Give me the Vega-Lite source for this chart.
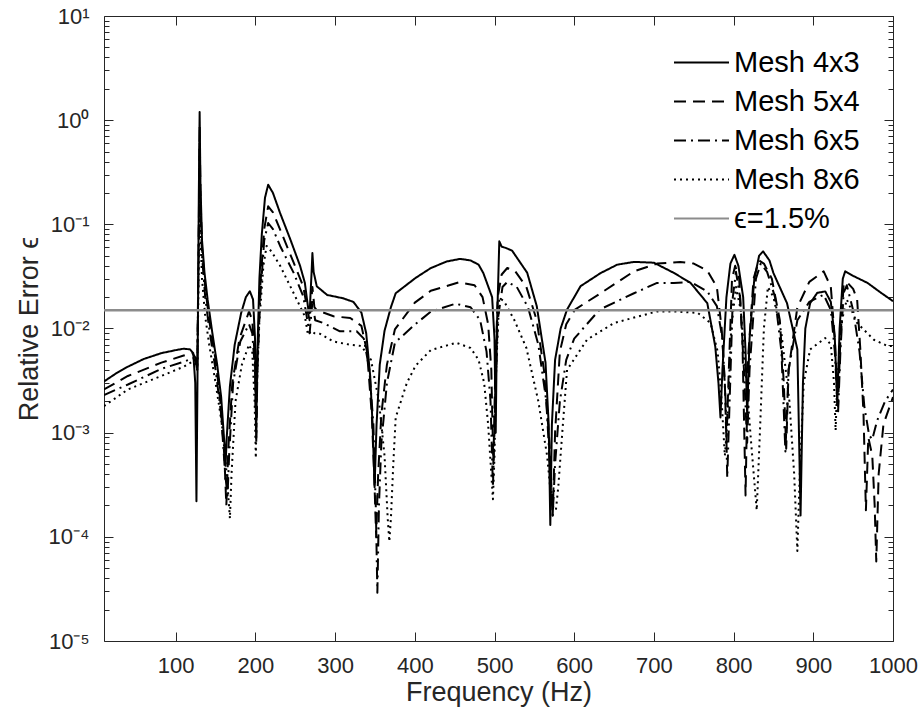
{
  "$schema": "https://vega.github.io/schema/vega-lite/v6.json",
  "width": 789,
  "height": 625,
  "autosize": {"type": "none"},
  "padding": {"left": 104, "top": 16, "right": 31, "bottom": 80},
  "background": "white",
  "config": {
    "font": "Liberation Sans",
    "view": {"stroke": "#262626", "strokeWidth": 1},
    "axis": {
      "domain": false,
      "ticks": false,
      "labelColor": "#262626",
      "titleColor": "#262626",
      "labelFont": "Liberation Sans",
      "titleFont": "Liberation Sans",
      "labelFontSize": 22,
      "titleFontSize": 27,
      "titleFontWeight": "normal"
    }
  },
  "data": {
    "values": [
      {"mesh": "Mesh 4x3", "f": 10, "err": 0.0031}, {"mesh": "Mesh 4x3", "f": 25, "err": 0.0037}, {"mesh": "Mesh 4x3", "f": 40, "err": 0.0043}, {"mesh": "Mesh 4x3", "f": 60, "err": 0.0051}, {"mesh": "Mesh 4x3", "f": 82, "err": 0.0058}, {"mesh": "Mesh 4x3", "f": 100, "err": 0.0062}, {"mesh": "Mesh 4x3", "f": 110, "err": 0.0064}, {"mesh": "Mesh 4x3", "f": 118, "err": 0.0063}, {"mesh": "Mesh 4x3", "f": 122, "err": 0.0058}, {"mesh": "Mesh 4x3", "f": 124.5, "err": 0.003}, {"mesh": "Mesh 4x3", "f": 126, "err": 0.00022}, {"mesh": "Mesh 4x3", "f": 127.5, "err": 0.005}, {"mesh": "Mesh 4x3", "f": 129, "err": 0.2}, {"mesh": "Mesh 4x3", "f": 130, "err": 1.2}, {"mesh": "Mesh 4x3", "f": 131, "err": 0.25}, {"mesh": "Mesh 4x3", "f": 133, "err": 0.07}, {"mesh": "Mesh 4x3", "f": 136, "err": 0.035}, {"mesh": "Mesh 4x3", "f": 140, "err": 0.019}, {"mesh": "Mesh 4x3", "f": 146, "err": 0.009}, {"mesh": "Mesh 4x3", "f": 152, "err": 0.0045}, {"mesh": "Mesh 4x3", "f": 157, "err": 0.0022}, {"mesh": "Mesh 4x3", "f": 161, "err": 0.0008}, {"mesh": "Mesh 4x3", "f": 162.5, "err": 0.00048}, {"mesh": "Mesh 4x3", "f": 164, "err": 0.0009}, {"mesh": "Mesh 4x3", "f": 168, "err": 0.0028}, {"mesh": "Mesh 4x3", "f": 174, "err": 0.007}, {"mesh": "Mesh 4x3", "f": 182, "err": 0.014}, {"mesh": "Mesh 4x3", "f": 188, "err": 0.02}, {"mesh": "Mesh 4x3", "f": 193, "err": 0.0228}, {"mesh": "Mesh 4x3", "f": 197, "err": 0.019}, {"mesh": "Mesh 4x3", "f": 199.5, "err": 0.008}, {"mesh": "Mesh 4x3", "f": 201, "err": 0.0011}, {"mesh": "Mesh 4x3", "f": 202.5, "err": 0.006}, {"mesh": "Mesh 4x3", "f": 205, "err": 0.03}, {"mesh": "Mesh 4x3", "f": 208, "err": 0.08}, {"mesh": "Mesh 4x3", "f": 212, "err": 0.18}, {"mesh": "Mesh 4x3", "f": 216, "err": 0.24}, {"mesh": "Mesh 4x3", "f": 222, "err": 0.2}, {"mesh": "Mesh 4x3", "f": 231, "err": 0.128}, {"mesh": "Mesh 4x3", "f": 244, "err": 0.071}, {"mesh": "Mesh 4x3", "f": 256, "err": 0.04}, {"mesh": "Mesh 4x3", "f": 262, "err": 0.0275}, {"mesh": "Mesh 4x3", "f": 266, "err": 0.016}, {"mesh": "Mesh 4x3", "f": 268, "err": 0.014}, {"mesh": "Mesh 4x3", "f": 270.5, "err": 0.035}, {"mesh": "Mesh 4x3", "f": 271.5, "err": 0.053}, {"mesh": "Mesh 4x3", "f": 273, "err": 0.035}, {"mesh": "Mesh 4x3", "f": 277, "err": 0.0254}, {"mesh": "Mesh 4x3", "f": 290, "err": 0.021}, {"mesh": "Mesh 4x3", "f": 310, "err": 0.0195}, {"mesh": "Mesh 4x3", "f": 323, "err": 0.018}, {"mesh": "Mesh 4x3", "f": 333, "err": 0.0142}, {"mesh": "Mesh 4x3", "f": 339, "err": 0.009}, {"mesh": "Mesh 4x3", "f": 344, "err": 0.0035}, {"mesh": "Mesh 4x3", "f": 347, "err": 0.0012}, {"mesh": "Mesh 4x3", "f": 349.5, "err": 0.0003}, {"mesh": "Mesh 4x3", "f": 352, "err": 0.0012}, {"mesh": "Mesh 4x3", "f": 356, "err": 0.0045}, {"mesh": "Mesh 4x3", "f": 362, "err": 0.0095}, {"mesh": "Mesh 4x3", "f": 370, "err": 0.016}, {"mesh": "Mesh 4x3", "f": 376, "err": 0.0218}, {"mesh": "Mesh 4x3", "f": 401, "err": 0.0306}, {"mesh": "Mesh 4x3", "f": 420, "err": 0.038}, {"mesh": "Mesh 4x3", "f": 440, "err": 0.044}, {"mesh": "Mesh 4x3", "f": 457, "err": 0.0466}, {"mesh": "Mesh 4x3", "f": 470, "err": 0.045}, {"mesh": "Mesh 4x3", "f": 480, "err": 0.041}, {"mesh": "Mesh 4x3", "f": 486, "err": 0.034}, {"mesh": "Mesh 4x3", "f": 497, "err": 0.02}, {"mesh": "Mesh 4x3", "f": 500, "err": 0.008}, {"mesh": "Mesh 4x3", "f": 501.5, "err": 0.001}, {"mesh": "Mesh 4x3", "f": 503, "err": 0.01}, {"mesh": "Mesh 4x3", "f": 506, "err": 0.0687}, {"mesh": "Mesh 4x3", "f": 509, "err": 0.061}, {"mesh": "Mesh 4x3", "f": 514, "err": 0.0594}, {"mesh": "Mesh 4x3", "f": 522, "err": 0.056}, {"mesh": "Mesh 4x3", "f": 541, "err": 0.0343}, {"mesh": "Mesh 4x3", "f": 553, "err": 0.0164}, {"mesh": "Mesh 4x3", "f": 564, "err": 0.0047}, {"mesh": "Mesh 4x3", "f": 568, "err": 0.0012}, {"mesh": "Mesh 4x3", "f": 570, "err": 0.00013}, {"mesh": "Mesh 4x3", "f": 572, "err": 0.0012}, {"mesh": "Mesh 4x3", "f": 576, "err": 0.005}, {"mesh": "Mesh 4x3", "f": 583, "err": 0.01}, {"mesh": "Mesh 4x3", "f": 591, "err": 0.0152}, {"mesh": "Mesh 4x3", "f": 608, "err": 0.0255}, {"mesh": "Mesh 4x3", "f": 633, "err": 0.034}, {"mesh": "Mesh 4x3", "f": 654, "err": 0.041}, {"mesh": "Mesh 4x3", "f": 675, "err": 0.0436}, {"mesh": "Mesh 4x3", "f": 700, "err": 0.0428}, {"mesh": "Mesh 4x3", "f": 725, "err": 0.0342}, {"mesh": "Mesh 4x3", "f": 746, "err": 0.0274}, {"mesh": "Mesh 4x3", "f": 767, "err": 0.0175}, {"mesh": "Mesh 4x3", "f": 777, "err": 0.0067}, {"mesh": "Mesh 4x3", "f": 781, "err": 0.003}, {"mesh": "Mesh 4x3", "f": 783.5, "err": 0.0014}, {"mesh": "Mesh 4x3", "f": 786, "err": 0.004}, {"mesh": "Mesh 4x3", "f": 791, "err": 0.02}, {"mesh": "Mesh 4x3", "f": 796, "err": 0.042}, {"mesh": "Mesh 4x3", "f": 801, "err": 0.051}, {"mesh": "Mesh 4x3", "f": 806, "err": 0.04}, {"mesh": "Mesh 4x3", "f": 812, "err": 0.02}, {"mesh": "Mesh 4x3", "f": 815, "err": 0.006}, {"mesh": "Mesh 4x3", "f": 817, "err": 0.0015}, {"mesh": "Mesh 4x3", "f": 820, "err": 0.008}, {"mesh": "Mesh 4x3", "f": 826, "err": 0.03}, {"mesh": "Mesh 4x3", "f": 832, "err": 0.05}, {"mesh": "Mesh 4x3", "f": 837, "err": 0.055}, {"mesh": "Mesh 4x3", "f": 845, "err": 0.045}, {"mesh": "Mesh 4x3", "f": 850, "err": 0.034}, {"mesh": "Mesh 4x3", "f": 867, "err": 0.0175}, {"mesh": "Mesh 4x3", "f": 880, "err": 0.0063}, {"mesh": "Mesh 4x3", "f": 884, "err": 0.00016}, {"mesh": "Mesh 4x3", "f": 887, "err": 0.003}, {"mesh": "Mesh 4x3", "f": 890, "err": 0.01}, {"mesh": "Mesh 4x3", "f": 896, "err": 0.0175}, {"mesh": "Mesh 4x3", "f": 905, "err": 0.022}, {"mesh": "Mesh 4x3", "f": 915, "err": 0.0227}, {"mesh": "Mesh 4x3", "f": 922, "err": 0.018}, {"mesh": "Mesh 4x3", "f": 927, "err": 0.008}, {"mesh": "Mesh 4x3", "f": 930, "err": 0.0019}, {"mesh": "Mesh 4x3", "f": 933, "err": 0.01}, {"mesh": "Mesh 4x3", "f": 937, "err": 0.03}, {"mesh": "Mesh 4x3", "f": 940, "err": 0.0354}, {"mesh": "Mesh 4x3", "f": 950, "err": 0.032}, {"mesh": "Mesh 4x3", "f": 968, "err": 0.0274}, {"mesh": "Mesh 4x3", "f": 985, "err": 0.022}, {"mesh": "Mesh 4x3", "f": 1000, "err": 0.0183},

      {"mesh": "Mesh 5x4", "f": 10, "err": 0.0026}, {"mesh": "Mesh 5x4", "f": 40, "err": 0.0035}, {"mesh": "Mesh 5x4", "f": 82, "err": 0.0047}, {"mesh": "Mesh 5x4", "f": 110, "err": 0.0055}, {"mesh": "Mesh 5x4", "f": 121, "err": 0.0058}, {"mesh": "Mesh 5x4", "f": 125, "err": 0.0052}, {"mesh": "Mesh 5x4", "f": 127, "err": 0.004}, {"mesh": "Mesh 5x4", "f": 129, "err": 0.1}, {"mesh": "Mesh 5x4", "f": 130, "err": 0.9}, {"mesh": "Mesh 5x4", "f": 131, "err": 0.2}, {"mesh": "Mesh 5x4", "f": 133, "err": 0.06}, {"mesh": "Mesh 5x4", "f": 137, "err": 0.025}, {"mesh": "Mesh 5x4", "f": 142, "err": 0.012}, {"mesh": "Mesh 5x4", "f": 150, "err": 0.005}, {"mesh": "Mesh 5x4", "f": 156, "err": 0.002}, {"mesh": "Mesh 5x4", "f": 161, "err": 0.0006}, {"mesh": "Mesh 5x4", "f": 163.5, "err": 0.0002}, {"mesh": "Mesh 5x4", "f": 166, "err": 0.0007}, {"mesh": "Mesh 5x4", "f": 171, "err": 0.003}, {"mesh": "Mesh 5x4", "f": 180, "err": 0.008}, {"mesh": "Mesh 5x4", "f": 192, "err": 0.0146}, {"mesh": "Mesh 5x4", "f": 196, "err": 0.012}, {"mesh": "Mesh 5x4", "f": 199.5, "err": 0.005}, {"mesh": "Mesh 5x4", "f": 201, "err": 0.0009}, {"mesh": "Mesh 5x4", "f": 202.5, "err": 0.005}, {"mesh": "Mesh 5x4", "f": 206, "err": 0.025}, {"mesh": "Mesh 5x4", "f": 211, "err": 0.09}, {"mesh": "Mesh 5x4", "f": 216, "err": 0.149}, {"mesh": "Mesh 5x4", "f": 222, "err": 0.13}, {"mesh": "Mesh 5x4", "f": 231, "err": 0.089}, {"mesh": "Mesh 5x4", "f": 248, "err": 0.0428}, {"mesh": "Mesh 5x4", "f": 260, "err": 0.0254}, {"mesh": "Mesh 5x4", "f": 266, "err": 0.014}, {"mesh": "Mesh 5x4", "f": 268, "err": 0.012}, {"mesh": "Mesh 5x4", "f": 271.5, "err": 0.025}, {"mesh": "Mesh 5x4", "f": 274, "err": 0.016}, {"mesh": "Mesh 5x4", "f": 277, "err": 0.015}, {"mesh": "Mesh 5x4", "f": 298, "err": 0.0131}, {"mesh": "Mesh 5x4", "f": 319, "err": 0.0126}, {"mesh": "Mesh 5x4", "f": 333, "err": 0.0106}, {"mesh": "Mesh 5x4", "f": 340, "err": 0.006}, {"mesh": "Mesh 5x4", "f": 346, "err": 0.0015}, {"mesh": "Mesh 5x4", "f": 349, "err": 0.0004}, {"mesh": "Mesh 5x4", "f": 351.5, "err": 0.0001}, {"mesh": "Mesh 5x4", "f": 354, "err": 0.0004}, {"mesh": "Mesh 5x4", "f": 358, "err": 0.0015}, {"mesh": "Mesh 5x4", "f": 365, "err": 0.0045}, {"mesh": "Mesh 5x4", "f": 375, "err": 0.0098}, {"mesh": "Mesh 5x4", "f": 400, "err": 0.0177}, {"mesh": "Mesh 5x4", "f": 420, "err": 0.023}, {"mesh": "Mesh 5x4", "f": 455, "err": 0.0277}, {"mesh": "Mesh 5x4", "f": 475, "err": 0.026}, {"mesh": "Mesh 5x4", "f": 485, "err": 0.02}, {"mesh": "Mesh 5x4", "f": 492, "err": 0.011}, {"mesh": "Mesh 5x4", "f": 496, "err": 0.004}, {"mesh": "Mesh 5x4", "f": 498.5, "err": 0.0005}, {"mesh": "Mesh 5x4", "f": 501, "err": 0.004}, {"mesh": "Mesh 5x4", "f": 504, "err": 0.02}, {"mesh": "Mesh 5x4", "f": 509, "err": 0.033}, {"mesh": "Mesh 5x4", "f": 516, "err": 0.0381}, {"mesh": "Mesh 5x4", "f": 526, "err": 0.0354}, {"mesh": "Mesh 5x4", "f": 540, "err": 0.025}, {"mesh": "Mesh 5x4", "f": 553, "err": 0.012}, {"mesh": "Mesh 5x4", "f": 562, "err": 0.004}, {"mesh": "Mesh 5x4", "f": 569, "err": 0.0008}, {"mesh": "Mesh 5x4", "f": 573, "err": 0.00016}, {"mesh": "Mesh 5x4", "f": 576, "err": 0.001}, {"mesh": "Mesh 5x4", "f": 582, "err": 0.006}, {"mesh": "Mesh 5x4", "f": 590, "err": 0.011}, {"mesh": "Mesh 5x4", "f": 601, "err": 0.0152}, {"mesh": "Mesh 5x4", "f": 633, "err": 0.0218}, {"mesh": "Mesh 5x4", "f": 675, "err": 0.0354}, {"mesh": "Mesh 5x4", "f": 704, "err": 0.042}, {"mesh": "Mesh 5x4", "f": 733, "err": 0.0436}, {"mesh": "Mesh 5x4", "f": 750, "err": 0.042}, {"mesh": "Mesh 5x4", "f": 767, "err": 0.036}, {"mesh": "Mesh 5x4", "f": 779, "err": 0.025}, {"mesh": "Mesh 5x4", "f": 785, "err": 0.01}, {"mesh": "Mesh 5x4", "f": 789, "err": 0.003}, {"mesh": "Mesh 5x4", "f": 791, "err": 0.0008}, {"mesh": "Mesh 5x4", "f": 794, "err": 0.004}, {"mesh": "Mesh 5x4", "f": 798, "err": 0.03}, {"mesh": "Mesh 5x4", "f": 802, "err": 0.04}, {"mesh": "Mesh 5x4", "f": 807, "err": 0.03}, {"mesh": "Mesh 5x4", "f": 811, "err": 0.008}, {"mesh": "Mesh 5x4", "f": 815, "err": 0.00025}, {"mesh": "Mesh 5x4", "f": 818, "err": 0.005}, {"mesh": "Mesh 5x4", "f": 825, "err": 0.03}, {"mesh": "Mesh 5x4", "f": 832, "err": 0.045}, {"mesh": "Mesh 5x4", "f": 838, "err": 0.042}, {"mesh": "Mesh 5x4", "f": 848, "err": 0.03}, {"mesh": "Mesh 5x4", "f": 858, "err": 0.012}, {"mesh": "Mesh 5x4", "f": 863, "err": 0.003}, {"mesh": "Mesh 5x4", "f": 866, "err": 0.0007}, {"mesh": "Mesh 5x4", "f": 869, "err": 0.004}, {"mesh": "Mesh 5x4", "f": 880, "err": 0.016}, {"mesh": "Mesh 5x4", "f": 895, "err": 0.028}, {"mesh": "Mesh 5x4", "f": 913, "err": 0.0354}, {"mesh": "Mesh 5x4", "f": 922, "err": 0.025}, {"mesh": "Mesh 5x4", "f": 927, "err": 0.008}, {"mesh": "Mesh 5x4", "f": 931, "err": 0.0018}, {"mesh": "Mesh 5x4", "f": 934, "err": 0.008}, {"mesh": "Mesh 5x4", "f": 938, "err": 0.026}, {"mesh": "Mesh 5x4", "f": 942, "err": 0.028}, {"mesh": "Mesh 5x4", "f": 950, "err": 0.024}, {"mesh": "Mesh 5x4", "f": 955, "err": 0.019}, {"mesh": "Mesh 5x4", "f": 959, "err": 0.0063}, {"mesh": "Mesh 5x4", "f": 963, "err": 0.0015}, {"mesh": "Mesh 5x4", "f": 966, "err": 0.00018}, {"mesh": "Mesh 5x4", "f": 969, "err": 0.0009}, {"mesh": "Mesh 5x4", "f": 974, "err": 0.0006}, {"mesh": "Mesh 5x4", "f": 977, "err": 0.0002}, {"mesh": "Mesh 5x4", "f": 979, "err": 0.000058}, {"mesh": "Mesh 5x4", "f": 982, "err": 0.0004}, {"mesh": "Mesh 5x4", "f": 988, "err": 0.0012}, {"mesh": "Mesh 5x4", "f": 1000, "err": 0.0022},

      {"mesh": "Mesh 6x5", "f": 10, "err": 0.0023}, {"mesh": "Mesh 6x5", "f": 40, "err": 0.0029}, {"mesh": "Mesh 6x5", "f": 82, "err": 0.0041}, {"mesh": "Mesh 6x5", "f": 110, "err": 0.0048}, {"mesh": "Mesh 6x5", "f": 122, "err": 0.0052}, {"mesh": "Mesh 6x5", "f": 125, "err": 0.0048}, {"mesh": "Mesh 6x5", "f": 127, "err": 0.004}, {"mesh": "Mesh 6x5", "f": 129, "err": 0.08}, {"mesh": "Mesh 6x5", "f": 130, "err": 0.6}, {"mesh": "Mesh 6x5", "f": 131, "err": 0.15}, {"mesh": "Mesh 6x5", "f": 133, "err": 0.05}, {"mesh": "Mesh 6x5", "f": 137, "err": 0.02}, {"mesh": "Mesh 6x5", "f": 142, "err": 0.01}, {"mesh": "Mesh 6x5", "f": 150, "err": 0.004}, {"mesh": "Mesh 6x5", "f": 157, "err": 0.0015}, {"mesh": "Mesh 6x5", "f": 162, "err": 0.0004}, {"mesh": "Mesh 6x5", "f": 165, "err": 0.00025}, {"mesh": "Mesh 6x5", "f": 167, "err": 0.0006}, {"mesh": "Mesh 6x5", "f": 172, "err": 0.003}, {"mesh": "Mesh 6x5", "f": 181, "err": 0.0075}, {"mesh": "Mesh 6x5", "f": 192, "err": 0.011}, {"mesh": "Mesh 6x5", "f": 196, "err": 0.009}, {"mesh": "Mesh 6x5", "f": 199.5, "err": 0.004}, {"mesh": "Mesh 6x5", "f": 201, "err": 0.0008}, {"mesh": "Mesh 6x5", "f": 202.5, "err": 0.004}, {"mesh": "Mesh 6x5", "f": 206, "err": 0.02}, {"mesh": "Mesh 6x5", "f": 211, "err": 0.07}, {"mesh": "Mesh 6x5", "f": 216, "err": 0.103}, {"mesh": "Mesh 6x5", "f": 222, "err": 0.09}, {"mesh": "Mesh 6x5", "f": 231, "err": 0.062}, {"mesh": "Mesh 6x5", "f": 248, "err": 0.0342}, {"mesh": "Mesh 6x5", "f": 260, "err": 0.0204}, {"mesh": "Mesh 6x5", "f": 266, "err": 0.011}, {"mesh": "Mesh 6x5", "f": 268, "err": 0.009}, {"mesh": "Mesh 6x5", "f": 271.5, "err": 0.018}, {"mesh": "Mesh 6x5", "f": 275, "err": 0.012}, {"mesh": "Mesh 6x5", "f": 285, "err": 0.0113}, {"mesh": "Mesh 6x5", "f": 306, "err": 0.0094}, {"mesh": "Mesh 6x5", "f": 327, "err": 0.0094}, {"mesh": "Mesh 6x5", "f": 336, "err": 0.008}, {"mesh": "Mesh 6x5", "f": 343, "err": 0.004}, {"mesh": "Mesh 6x5", "f": 348, "err": 0.0012}, {"mesh": "Mesh 6x5", "f": 351, "err": 0.0002}, {"mesh": "Mesh 6x5", "f": 353, "err": 0.000029}, {"mesh": "Mesh 6x5", "f": 355, "err": 0.0002}, {"mesh": "Mesh 6x5", "f": 358, "err": 0.0008}, {"mesh": "Mesh 6x5", "f": 365, "err": 0.003}, {"mesh": "Mesh 6x5", "f": 375, "err": 0.0073}, {"mesh": "Mesh 6x5", "f": 400, "err": 0.0109}, {"mesh": "Mesh 6x5", "f": 420, "err": 0.0145}, {"mesh": "Mesh 6x5", "f": 451, "err": 0.0173}, {"mesh": "Mesh 6x5", "f": 470, "err": 0.016}, {"mesh": "Mesh 6x5", "f": 482, "err": 0.012}, {"mesh": "Mesh 6x5", "f": 490, "err": 0.006}, {"mesh": "Mesh 6x5", "f": 495, "err": 0.002}, {"mesh": "Mesh 6x5", "f": 498, "err": 0.0003}, {"mesh": "Mesh 6x5", "f": 501, "err": 0.002}, {"mesh": "Mesh 6x5", "f": 504, "err": 0.012}, {"mesh": "Mesh 6x5", "f": 510, "err": 0.025}, {"mesh": "Mesh 6x5", "f": 516, "err": 0.028}, {"mesh": "Mesh 6x5", "f": 528, "err": 0.025}, {"mesh": "Mesh 6x5", "f": 542, "err": 0.016}, {"mesh": "Mesh 6x5", "f": 555, "err": 0.007}, {"mesh": "Mesh 6x5", "f": 565, "err": 0.002}, {"mesh": "Mesh 6x5", "f": 571, "err": 0.0003}, {"mesh": "Mesh 6x5", "f": 573, "err": 0.00016}, {"mesh": "Mesh 6x5", "f": 576, "err": 0.0005}, {"mesh": "Mesh 6x5", "f": 582, "err": 0.002}, {"mesh": "Mesh 6x5", "f": 590, "err": 0.005}, {"mesh": "Mesh 6x5", "f": 600, "err": 0.008}, {"mesh": "Mesh 6x5", "f": 632, "err": 0.0152}, {"mesh": "Mesh 6x5", "f": 675, "err": 0.0218}, {"mesh": "Mesh 6x5", "f": 704, "err": 0.0274}, {"mesh": "Mesh 6x5", "f": 725, "err": 0.0274}, {"mesh": "Mesh 6x5", "f": 746, "err": 0.028}, {"mesh": "Mesh 6x5", "f": 767, "err": 0.0227}, {"mesh": "Mesh 6x5", "f": 779, "err": 0.0164}, {"mesh": "Mesh 6x5", "f": 786, "err": 0.008}, {"mesh": "Mesh 6x5", "f": 790, "err": 0.002}, {"mesh": "Mesh 6x5", "f": 792, "err": 0.00037}, {"mesh": "Mesh 6x5", "f": 795, "err": 0.002}, {"mesh": "Mesh 6x5", "f": 799, "err": 0.02}, {"mesh": "Mesh 6x5", "f": 803, "err": 0.035}, {"mesh": "Mesh 6x5", "f": 808, "err": 0.02}, {"mesh": "Mesh 6x5", "f": 813, "err": 0.004}, {"mesh": "Mesh 6x5", "f": 817, "err": 0.0008}, {"mesh": "Mesh 6x5", "f": 820, "err": 0.004}, {"mesh": "Mesh 6x5", "f": 828, "err": 0.03}, {"mesh": "Mesh 6x5", "f": 834, "err": 0.042}, {"mesh": "Mesh 6x5", "f": 842, "err": 0.035}, {"mesh": "Mesh 6x5", "f": 852, "err": 0.02}, {"mesh": "Mesh 6x5", "f": 860, "err": 0.006}, {"mesh": "Mesh 6x5", "f": 865, "err": 0.00066}, {"mesh": "Mesh 6x5", "f": 869, "err": 0.004}, {"mesh": "Mesh 6x5", "f": 880, "err": 0.012}, {"mesh": "Mesh 6x5", "f": 895, "err": 0.018}, {"mesh": "Mesh 6x5", "f": 913, "err": 0.0211}, {"mesh": "Mesh 6x5", "f": 922, "err": 0.015}, {"mesh": "Mesh 6x5", "f": 927, "err": 0.006}, {"mesh": "Mesh 6x5", "f": 931, "err": 0.0015}, {"mesh": "Mesh 6x5", "f": 934, "err": 0.006}, {"mesh": "Mesh 6x5", "f": 938, "err": 0.022}, {"mesh": "Mesh 6x5", "f": 942, "err": 0.026}, {"mesh": "Mesh 6x5", "f": 950, "err": 0.015}, {"mesh": "Mesh 6x5", "f": 958, "err": 0.006}, {"mesh": "Mesh 6x5", "f": 964, "err": 0.0018}, {"mesh": "Mesh 6x5", "f": 970, "err": 0.00095}, {"mesh": "Mesh 6x5", "f": 974, "err": 0.00086}, {"mesh": "Mesh 6x5", "f": 980, "err": 0.0013}, {"mesh": "Mesh 6x5", "f": 990, "err": 0.002}, {"mesh": "Mesh 6x5", "f": 1000, "err": 0.0026},

      {"mesh": "Mesh 8x6", "f": 10, "err": 0.0018}, {"mesh": "Mesh 8x6", "f": 40, "err": 0.0026}, {"mesh": "Mesh 8x6", "f": 82, "err": 0.0035}, {"mesh": "Mesh 8x6", "f": 110, "err": 0.0043}, {"mesh": "Mesh 8x6", "f": 121, "err": 0.0048}, {"mesh": "Mesh 8x6", "f": 125, "err": 0.0045}, {"mesh": "Mesh 8x6", "f": 127, "err": 0.004}, {"mesh": "Mesh 8x6", "f": 129, "err": 0.04}, {"mesh": "Mesh 8x6", "f": 130, "err": 0.3}, {"mesh": "Mesh 8x6", "f": 131, "err": 0.08}, {"mesh": "Mesh 8x6", "f": 133, "err": 0.03}, {"mesh": "Mesh 8x6", "f": 137, "err": 0.013}, {"mesh": "Mesh 8x6", "f": 142, "err": 0.007}, {"mesh": "Mesh 8x6", "f": 150, "err": 0.003}, {"mesh": "Mesh 8x6", "f": 158, "err": 0.0012}, {"mesh": "Mesh 8x6", "f": 164, "err": 0.0004}, {"mesh": "Mesh 8x6", "f": 168, "err": 0.00015}, {"mesh": "Mesh 8x6", "f": 170, "err": 0.0004}, {"mesh": "Mesh 8x6", "f": 175, "err": 0.002}, {"mesh": "Mesh 8x6", "f": 183, "err": 0.0045}, {"mesh": "Mesh 8x6", "f": 192, "err": 0.007}, {"mesh": "Mesh 8x6", "f": 196, "err": 0.006}, {"mesh": "Mesh 8x6", "f": 199, "err": 0.002}, {"mesh": "Mesh 8x6", "f": 200.5, "err": 0.00057}, {"mesh": "Mesh 8x6", "f": 202, "err": 0.003}, {"mesh": "Mesh 8x6", "f": 205, "err": 0.012}, {"mesh": "Mesh 8x6", "f": 210, "err": 0.04}, {"mesh": "Mesh 8x6", "f": 214, "err": 0.062}, {"mesh": "Mesh 8x6", "f": 220, "err": 0.055}, {"mesh": "Mesh 8x6", "f": 231, "err": 0.04}, {"mesh": "Mesh 8x6", "f": 248, "err": 0.0218}, {"mesh": "Mesh 8x6", "f": 262, "err": 0.0131}, {"mesh": "Mesh 8x6", "f": 266, "err": 0.0087}, {"mesh": "Mesh 8x6", "f": 270, "err": 0.0095}, {"mesh": "Mesh 8x6", "f": 274, "err": 0.009}, {"mesh": "Mesh 8x6", "f": 281, "err": 0.0089}, {"mesh": "Mesh 8x6", "f": 298, "err": 0.0075}, {"mesh": "Mesh 8x6", "f": 318, "err": 0.007}, {"mesh": "Mesh 8x6", "f": 333, "err": 0.0068}, {"mesh": "Mesh 8x6", "f": 345, "err": 0.005}, {"mesh": "Mesh 8x6", "f": 355, "err": 0.002}, {"mesh": "Mesh 8x6", "f": 362, "err": 0.0006}, {"mesh": "Mesh 8x6", "f": 366, "err": 0.00015}, {"mesh": "Mesh 8x6", "f": 368, "err": 0.00009}, {"mesh": "Mesh 8x6", "f": 370, "err": 0.00015}, {"mesh": "Mesh 8x6", "f": 373, "err": 0.0005}, {"mesh": "Mesh 8x6", "f": 376, "err": 0.0014}, {"mesh": "Mesh 8x6", "f": 390, "err": 0.003}, {"mesh": "Mesh 8x6", "f": 401, "err": 0.0044}, {"mesh": "Mesh 8x6", "f": 420, "err": 0.0062}, {"mesh": "Mesh 8x6", "f": 452, "err": 0.0073}, {"mesh": "Mesh 8x6", "f": 470, "err": 0.0065}, {"mesh": "Mesh 8x6", "f": 480, "err": 0.005}, {"mesh": "Mesh 8x6", "f": 487, "err": 0.003}, {"mesh": "Mesh 8x6", "f": 492, "err": 0.0012}, {"mesh": "Mesh 8x6", "f": 496, "err": 0.0004}, {"mesh": "Mesh 8x6", "f": 498, "err": 0.00023}, {"mesh": "Mesh 8x6", "f": 500, "err": 0.0006}, {"mesh": "Mesh 8x6", "f": 502, "err": 0.004}, {"mesh": "Mesh 8x6", "f": 506, "err": 0.0196}, {"mesh": "Mesh 8x6", "f": 512, "err": 0.0183}, {"mesh": "Mesh 8x6", "f": 525, "err": 0.012}, {"mesh": "Mesh 8x6", "f": 540, "err": 0.0065}, {"mesh": "Mesh 8x6", "f": 555, "err": 0.002}, {"mesh": "Mesh 8x6", "f": 566, "err": 0.0006}, {"mesh": "Mesh 8x6", "f": 572, "err": 0.0002}, {"mesh": "Mesh 8x6", "f": 577, "err": 0.00018}, {"mesh": "Mesh 8x6", "f": 580, "err": 0.0003}, {"mesh": "Mesh 8x6", "f": 585, "err": 0.001}, {"mesh": "Mesh 8x6", "f": 591, "err": 0.004}, {"mesh": "Mesh 8x6", "f": 616, "err": 0.0078}, {"mesh": "Mesh 8x6", "f": 650, "err": 0.0113}, {"mesh": "Mesh 8x6", "f": 704, "err": 0.0146}, {"mesh": "Mesh 8x6", "f": 725, "err": 0.0146}, {"mesh": "Mesh 8x6", "f": 755, "err": 0.0141}, {"mesh": "Mesh 8x6", "f": 771, "err": 0.0113}, {"mesh": "Mesh 8x6", "f": 780, "err": 0.006}, {"mesh": "Mesh 8x6", "f": 785, "err": 0.002}, {"mesh": "Mesh 8x6", "f": 789, "err": 0.0006}, {"mesh": "Mesh 8x6", "f": 792, "err": 0.0012}, {"mesh": "Mesh 8x6", "f": 797, "err": 0.01}, {"mesh": "Mesh 8x6", "f": 803, "err": 0.025}, {"mesh": "Mesh 8x6", "f": 809, "err": 0.015}, {"mesh": "Mesh 8x6", "f": 815, "err": 0.004}, {"mesh": "Mesh 8x6", "f": 822, "err": 0.0008}, {"mesh": "Mesh 8x6", "f": 829, "err": 0.00018}, {"mesh": "Mesh 8x6", "f": 833, "err": 0.001}, {"mesh": "Mesh 8x6", "f": 838, "err": 0.01}, {"mesh": "Mesh 8x6", "f": 843, "err": 0.025}, {"mesh": "Mesh 8x6", "f": 850, "err": 0.02}, {"mesh": "Mesh 8x6", "f": 860, "err": 0.009}, {"mesh": "Mesh 8x6", "f": 870, "err": 0.002}, {"mesh": "Mesh 8x6", "f": 876, "err": 0.0004}, {"mesh": "Mesh 8x6", "f": 880, "err": 0.000073}, {"mesh": "Mesh 8x6", "f": 883, "err": 0.0004}, {"mesh": "Mesh 8x6", "f": 888, "err": 0.003}, {"mesh": "Mesh 8x6", "f": 896, "err": 0.0063}, {"mesh": "Mesh 8x6", "f": 915, "err": 0.0081}, {"mesh": "Mesh 8x6", "f": 922, "err": 0.007}, {"mesh": "Mesh 8x6", "f": 926, "err": 0.003}, {"mesh": "Mesh 8x6", "f": 928, "err": 0.00105}, {"mesh": "Mesh 8x6", "f": 930, "err": 0.003}, {"mesh": "Mesh 8x6", "f": 936, "err": 0.012}, {"mesh": "Mesh 8x6", "f": 942, "err": 0.019}, {"mesh": "Mesh 8x6", "f": 955, "err": 0.0113}, {"mesh": "Mesh 8x6", "f": 976, "err": 0.0078}, {"mesh": "Mesh 8x6", "f": 993, "err": 0.0068}, {"mesh": "Mesh 8x6", "f": 1000, "err": 0.0068}
    ]
  },
  "resolve": {"axis": {"x": "independent", "y": "independent"}},
  "layer": [
    {
      "transform": [{"filter": {"field": "mesh", "oneOf": ["Mesh 4x3", "Mesh 5x4"]}}],
      "mark": {"type": "line", "strokeWidth": 2, "clip": true, "strokeCap": "butt", "strokeJoin": "round"},
      "encoding": {
        "x": {
          "field": "f",
          "type": "quantitative",
          "scale": {"domain": [10, 1000], "nice": false, "zero": false},
          "axis": {
            "orient": "bottom",
            "values": [100, 200, 300, 400, 500, 600, 700, 800, 900, 1000],
            "format": "d",
            "grid": true,
            "gridColor": "#262626",
            "gridOpacity": 1,
            "gridWidth": 1,
            "gridDash": [9, 607, 9, 1000],
            "labelPadding": 14,
            "labelFlush": false,
            "title": "Frequency (Hz)",
            "titlePadding": 3
          }
        },
        "y": {
          "field": "err",
          "type": "quantitative",
          "scale": {"type": "log", "domain": [0.00001, 10], "nice": false},
          "axis": {
            "orient": "left",
            "values": [0.00001, 0.0001, 0.001, 0.01, 0.1, 1, 10],
            "labelExpr": "datum.value == 10 ? '10¹' : datum.value == 1 ? '10⁰' : datum.value == 0.1 ? '10⁻¹' : datum.value == 0.01 ? '10⁻²' : datum.value == 0.001 ? '10⁻³' : datum.value == 0.0001 ? '10⁻⁴' : '10⁻⁵'",
            "grid": true,
            "gridColor": "#262626",
            "gridOpacity": 1,
            "gridWidth": 1,
            "gridDash": [9, 771, 9, 1000],
            "labelPadding": 15,
            "labelFlush": false,
            "title": "Relative Error ϵ",
            "titlePadding": 5
          }
        },
        "color": {
          "field": "mesh",
          "type": "nominal",
          "scale": {"domain": ["Mesh 4x3", "Mesh 5x4", "Mesh 6x5", "Mesh 8x6", "ϵ=1.5%"], "range": ["#000000", "#000000", "#000000", "#000000", "#8c8c8c"]},
          "legend": {"orient": "none", "legendX": 569, "legendY": 27, "title": null, "symbolType": "stroke", "symbolSize": 3025, "symbolStrokeWidth": 2, "labelFontSize": 29, "labelFont": "Liberation Sans", "labelColor": "#000000", "labelOffset": 4, "clipHeight": 39, "rowPadding": 0}
        },
        "strokeDash": {
          "field": "mesh",
          "type": "nominal",
          "scale": {"domain": ["Mesh 4x3", "Mesh 5x4", "Mesh 6x5", "Mesh 8x6", "ϵ=1.5%"], "range": [[1, 0], [12, 7], [12, 5, 2, 5], [2, 4], [1, 0]]},
          "legend": {"orient": "none", "legendX": 569, "legendY": 27, "title": null, "symbolType": "stroke", "symbolSize": 3025, "symbolStrokeWidth": 2, "labelFontSize": 29, "labelFont": "Liberation Sans", "labelColor": "#000000", "labelOffset": 4, "clipHeight": 39, "rowPadding": 0}
        }
      }
    },
    {
      "transform": [{"filter": {"field": "mesh", "equal": "Mesh 6x5"}}],
      "mark": {"type": "line", "strokeWidth": 2, "clip": true, "strokeCap": "butt", "strokeJoin": "round"},
      "encoding": {
        "x": {"field": "f", "type": "quantitative", "axis": null},
        "y": {
          "field": "err",
          "type": "quantitative",
          "axis": {
            "orient": "left",
            "values": [0.00002, 0.00003, 0.00004, 0.00005, 0.00006, 0.00007, 0.00008, 0.00009, 0.0002, 0.0003, 0.0004, 0.0005, 0.0006, 0.0007, 0.0008, 0.0009, 0.002, 0.003, 0.004, 0.005, 0.006, 0.007, 0.008, 0.009, 0.02, 0.03, 0.04, 0.05, 0.06, 0.07, 0.08, 0.09, 0.2, 0.3, 0.4, 0.5, 0.6, 0.7, 0.8, 0.9, 2, 3, 4, 5, 6, 7, 8, 9],
            "grid": true,
            "gridColor": "#262626",
            "gridOpacity": 1,
            "gridWidth": 1,
            "gridDash": [5, 779, 5, 1000],
            "labels": false,
            "title": null
          }
        },
        "color": {"field": "mesh", "type": "nominal"},
        "strokeDash": {"field": "mesh", "type": "nominal"}
      }
    },
    {
      "transform": [{"filter": {"field": "mesh", "equal": "Mesh 8x6"}}],
      "mark": {"type": "line", "strokeWidth": 2, "clip": true, "strokeCap": "butt", "strokeJoin": "round"},
      "encoding": {
        "x": {"field": "f", "type": "quantitative", "axis": null},
        "y": {"field": "err", "type": "quantitative", "axis": null},
        "color": {"field": "mesh", "type": "nominal"},
        "strokeDash": {"field": "mesh", "type": "nominal"}
      }
    },
    {
      "data": {"values": [{"mesh": "ϵ=1.5%", "err": 0.015}]},
      "mark": {"type": "rule", "strokeWidth": 2.5},
      "encoding": {
        "y": {"field": "err", "type": "quantitative", "axis": null},
        "color": {"field": "mesh", "type": "nominal"},
        "strokeDash": {"field": "mesh", "type": "nominal"}
      }
    }
  ]
}
